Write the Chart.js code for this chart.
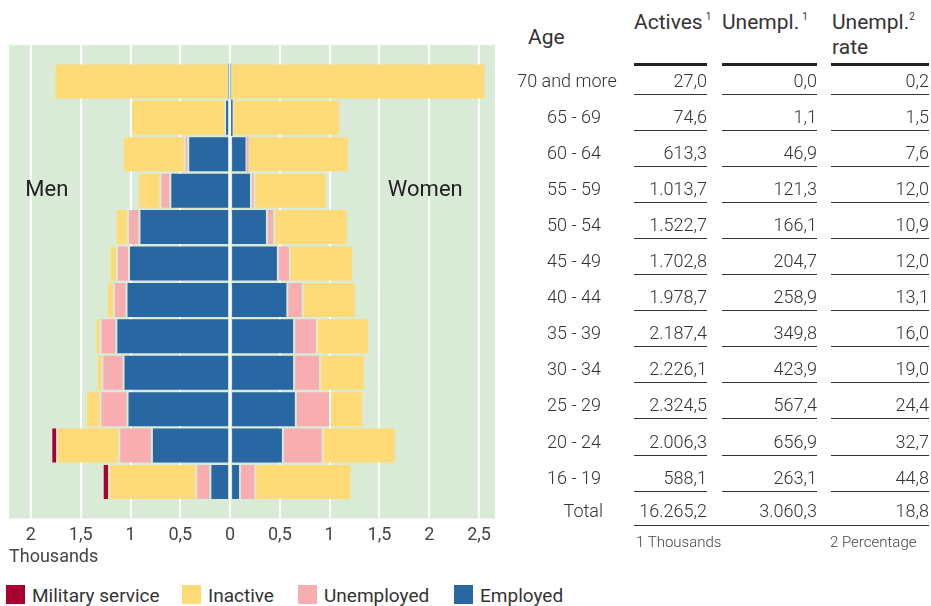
<!DOCTYPE html>
<html>
<head>
<meta charset="utf-8">
<script src="https://cdn.jsdelivr.net/npm/chart.js@4"></script>
<style>
  body { margin: 0; background: #fff; font-family: Roboto, "Liberation Sans", sans-serif; color: #333; }
  #wrap { position: absolute; left: 0; top: 0; width: 520px; height: 570px; }
  .abs { position: absolute; white-space: nowrap; }
  .cell { position: absolute; height: 27px; line-height: 27px; font-size: 18px; font-weight: 300; text-align: right; border-bottom: 1px solid #333; color: #333; }
  .age { position: absolute; height: 27px; line-height: 27px; font-size: 18px; font-weight: 300; text-align: center; color: #333; white-space: nowrap; }
  .head { position: absolute; font-size: 21px; color: #333; line-height: 25px; white-space: nowrap; }
  .head sup { font-size: 10px; vertical-align: 9px; margin-left: 3px; }
  .thick { position: absolute; height: 3px; background: #222; top: 63px; }
  .note { position: absolute; top: 533px; font-size: 15px; font-weight: 300; color: #444; }
  .leg { position: absolute; top: 585px; font-size: 19px; color: #333; line-height: 22px; white-space: nowrap; }
  .leg i { position: absolute; width: 19px; height: 19px; top: 0; }
</style>
</head>
<body>
<div id="wrap"><canvas id="chart"></canvas></div>
<div id="table"></div>
<div id="legend"></div>
<script>
var ctx = document.getElementById("chart").getContext("2d");

// age groups, top to bottom
var ages = ['70 and more', '65 - 69', '60 - 64', '55 - 59', '50 - 54', '45 - 49',
            '40 - 44', '35 - 39', '30 - 34', '25 - 29', '20 - 24', '16 - 19'];

// men (millions)
var menEmployed   = [0.015, 0.05, 0.42, 0.60, 0.91, 1.015, 1.04, 1.142, 1.07, 1.03, 0.785, 0.198];
var menUnemployed = [0, 0, 0.035, 0.10, 0.115, 0.12, 0.127, 0.157, 0.212, 0.27, 0.327, 0.142];
var menInactive   = [1.748, 0.942, 0.624, 0.222, 0.122, 0.074, 0.068, 0.05, 0.058, 0.146, 0.625, 0.875];
var menMilitary   = [0, 0, 0, 0, 0, 0, 0, 0, 0, 0, 0.058, 0.064];

// women (millions)
var womenEmployed   = [0.005, 0.025, 0.165, 0.21, 0.37, 0.48, 0.575, 0.643, 0.643, 0.66, 0.53, 0.10];
var womenUnemployed = [0, 0, 0.02, 0.035, 0.073, 0.12, 0.154, 0.228, 0.26, 0.343, 0.40, 0.153];
var womenInactive   = [2.56, 1.08, 1.007, 0.727, 0.737, 0.635, 0.534, 0.522, 0.45, 0.333, 0.733, 0.967];

// table on the right
var actives      = [27.0, 74.6, 613.3, 1013.7, 1522.7, 1702.8, 1978.7, 2187.4, 2226.1, 2324.5, 2006.3, 588.1];
var unemployed   = [0.0, 1.1, 46.9, 121.3, 166.1, 204.7, 258.9, 349.8, 423.9, 567.4, 656.9, 263.1];
var unemplRate   = [0.2, 1.5, 7.6, 12.0, 10.9, 12.0, 13.1, 16.0, 19.0, 24.4, 32.7, 44.8];
var totals       = [16265.2, 3060.3, 18.8];

var colors = {
  Military: '#a8002f',
  Inactive: '#fedb76',
  Unemployed: '#f8adb0',
  Employed: '#2967a2'
};
var GREEN = '#d9ebd6';

// one empty slot above and below so bars sit half a step in from the edges
var labels = [''].concat(ages, ['']);
function pad(arr, sign) {
  return [null].concat(arr.map(function (v) { return v ? v * sign : null; }), [null]);
}

function ds(label, arr, sign, color) {
  return {
    label: label,
    data: pad(arr, sign),
    backgroundColor: color,
    borderColor: 'rgba(0,0,0,0)',
    borderWidth: function (c) { return Math.abs(c.raw || 0) < 0.03 ? 0 : 1; },
    borderSkipped: false,
    inflateAmount: 0,
    barThickness: 36,
    stack: 'all'
  };
}

var bg = {
  id: 'bg',
  beforeDraw: function (chart) {
    var a = chart.chartArea, c = chart.ctx;
    c.save();
    c.fillStyle = GREEN;
    c.fillRect(a.left, a.top, a.right - a.left, a.bottom - a.top);
    c.restore();
  },
  afterDatasetsDraw: function (chart) {
    var c = chart.ctx, x = chart.scales.x, y = chart.scales.y;
    c.save();
    c.font = '22px Roboto';
    c.fillStyle = '#222';
    c.textAlign = 'center';
    c.textBaseline = 'middle';
    c.fillText('Men', x.getPixelForValue(-1.84), y.getPixelForValue(4));
    c.fillText('Women', x.getPixelForValue(1.96), y.getPixelForValue(4));
    c.restore();
  }
};

var chart = new Chart(ctx, {
  type: 'bar',
  data: {
    labels: labels,
    datasets: [
      ds('Employed', menEmployed, -1, colors.Employed),
      ds('Unemployed', menUnemployed, -1, colors.Unemployed),
      ds('Inactive', menInactive, -1, colors.Inactive),
      ds('Military service', menMilitary, -1, colors.Military),
      ds('Employed', womenEmployed, 1, colors.Employed),
      ds('Unemployed', womenUnemployed, 1, colors.Unemployed),
      ds('Inactive', womenInactive, 1, colors.Inactive)
    ]
  },
  options: {
    indexAxis: 'y',
    responsive: true,
    maintainAspectRatio: false,
    animation: false,
    layout: { padding: { left: 9, right: 25, top: 45, bottom: 0 } },
    plugins: { legend: { display: false }, tooltip: { enabled: false } },
    scales: {
      x: {
        stacked: true,
        min: -2.22,
        max: 2.66,
        border: { display: false },
        grid: { color: '#fff', lineWidth: 2, drawTicks: false },
        ticks: {
          stepSize: 0.5,
          includeBounds: false,
          padding: 6,
          color: '#444',
          font: { family: 'Roboto', size: 18 },
          callback: function (v) { return String(Math.round(Math.abs(v) * 10) / 10).replace('.', ','); }
        },
        title: {
          display: true,
          text: 'Thousands',
          align: 'start',
          color: '#444',
          font: { family: 'Roboto', size: 18, lineHeight: 1 },
          padding: { top: -4, bottom: 4 }
        }
      },
      y: { stacked: true, display: false, offset: false }
    }
  },
  plugins: [bg]
});

// ---- table ----
function fmt(v) {
  var s = v.toFixed(1).split('.');
  var int = s[0].replace(/\B(?=(\d{3})+(?!\d))/g, '.');
  return int + ',' + s[1];
}
var cols = [
  { left: 634, width: 73 },
  { left: 722, width: 95 },
  { left: 831, width: 98 }
];
var html = '';
html += '<div class="head" style="left:528px;top:25px;">Age</div>';
html += '<div class="head" style="left:634px;top:4px;">Actives<sup>1</sup></div>';
html += '<div class="head" style="left:722px;top:4px;">Unempl.<sup>1</sup></div>';
html += '<div class="head" style="left:832px;top:4px;">Unempl.<sup style="margin-left:0">2</sup><br>rate</div>';
cols.forEach(function (c) {
  html += '<div class="thick" style="left:' + c.left + 'px;width:' + c.width + 'px;"></div>';
});
function row(lineY, age, vals, ageStyle) {
  var top = lineY - 28;
  html += '<div class="age" style="top:' + top + 'px;' + ageStyle + '">' + age + '</div>';
  vals.forEach(function (v, k) {
    html += '<div class="cell" style="top:' + top + 'px;left:' + cols[k].left + 'px;width:' + cols[k].width + 'px;">' + fmt(v) + '</div>';
  });
}
ages.forEach(function (a, i) {
  var ageStyle = i === 0 ? 'left:512px;width:110px;' : 'left:519px;width:110px;';
  row(Math.round(95 + i * 36.05), a, [actives[i], unemployed[i], unemplRate[i]], ageStyle);
});
html += '<div class="age" style="top:497px;left:503px;width:100px;text-align:right;">Total</div>';
html += '<div class="abs" style="top:525px;left:634px;width:295px;height:1px;background:#333;"></div>';
totals.forEach(function (v, k) {
  html += '<div class="cell" style="border:none;top:497px;left:' + cols[k].left + 'px;width:' + cols[k].width + 'px;">' + fmt(v) + '</div>';
});
html += '<div class="note" style="left:636px;">1 Thousands</div>';
html += '<div class="note" style="left:830px;">2 Percentage</div>';
document.getElementById('table').innerHTML = html;

// ---- legend ----
var legendItems = [
  { text: 'Military service', color: colors.Military, x: 6 },
  { text: 'Inactive', color: colors.Inactive, x: 182 },
  { text: 'Unemployed', color: colors.Unemployed, x: 298 },
  { text: 'Employed', color: colors.Employed, x: 454 }
];
var lh = '';
legendItems.forEach(function (it) {
  lh += '<div class="leg" style="left:' + it.x + 'px;padding-left:26px;"><i style="left:0;background:' + it.color + '"></i>' + it.text + '</div>';
});
document.getElementById('legend').innerHTML = lh;
</script>
</body>
</html>
